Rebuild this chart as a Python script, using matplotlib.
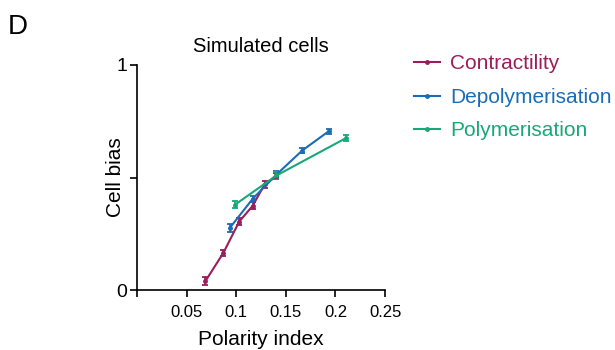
import matplotlib.pyplot as plt
from matplotlib.lines import Line2D

plt.rcParams['font.family'] = ['Liberation Sans', 'DejaVu Sans']

# Dati
contr_x = [0.069, 0.087, 0.103, 0.1165, 0.1285, 0.1405]
contr_y = [0.04, 0.165, 0.304, 0.374, 0.469, 0.506]
contr_err = [0.018, 0.014, 0.016, 0.016, 0.014, 0.014]

depol_x = [0.0935, 0.1165, 0.1405, 0.1665, 0.193]
depol_y = [0.276, 0.405, 0.513, 0.620, 0.705]
depol_err = [0.016, 0.014, 0.014, 0.012, 0.012]

polym_x = [0.099, 0.1405, 0.2105]
polym_y = [0.380, 0.509, 0.675]
polym_err = [0.016, 0.014, 0.012]

serie = [
    ('Contractility', contr_x, contr_y, contr_err, '#9b1d5b'),
    ('Depolymerisation', depol_x, depol_y, depol_err, '#1b6cb6'),
    ('Polymerisation', polym_x, polym_y, polym_err, '#17a878'),
]

x_ticks = [0, 0.05, 0.1, 0.15, 0.2, 0.25]
x_labels = ['', '0.05', '0.1', '0.15', '0.2', '0.25']
y_ticks = [0, 0.5, 1]
y_labels = ['0', '', '1']

fig = plt.figure(figsize=(6.15, 3.5), dpi=100)
ax = fig.add_axes([0.2228, 0.1714, 0.4034, 0.6429])

maniglie = []
for nome, xs, ys, errs, colore in serie:
    ax.errorbar(xs, ys, yerr=errs, color=colore, linewidth=1.5, marker='o',
                markersize=2.5, capsize=2, elinewidth=1.3, capthick=1.3,
                clip_on=False)
    maniglie.append(Line2D([], [], color=colore, linewidth=1.5, marker='o',
                           markersize=2.5, label=nome))

ax.set_xlim(0, 0.25)
ax.set_ylim(0, 1)
ax.set_xticks(x_ticks)
ax.set_xticklabels(x_labels)
ax.set_yticks(y_ticks)
ax.set_yticklabels(y_labels)
ax.tick_params(direction='out', length=5, width=1.2, labelsize=12, pad=6)
ax.tick_params(axis='y', labelsize=14, pad=2)
for lato in ['top', 'right']:
    ax.spines[lato].set_visible(False)
for lato in ['left', 'bottom']:
    ax.spines[lato].set_linewidth(1.2)

ax.set_xlabel('Polarity index', fontsize=15, labelpad=7)
ax.set_ylabel('Cell bias', fontsize=15)
ax.yaxis.set_label_coords(-0.05, 0.5)
ax.set_title('Simulated cells', fontsize=14.5, pad=9)

ax.legend(handles=maniglie, loc='upper left', bbox_to_anchor=(0.673, 0.845),
          bbox_transform=fig.transFigure, frameon=False, fontsize=15,
          labelcolor='linecolor', handlelength=1.25, handletextpad=0.5,
          labelspacing=0.7, borderaxespad=0, borderpad=0)

fig.text(0.013, 0.96, 'D', fontsize=20, va='top', ha='left')

fig.savefig('out.png', dpi=100)
